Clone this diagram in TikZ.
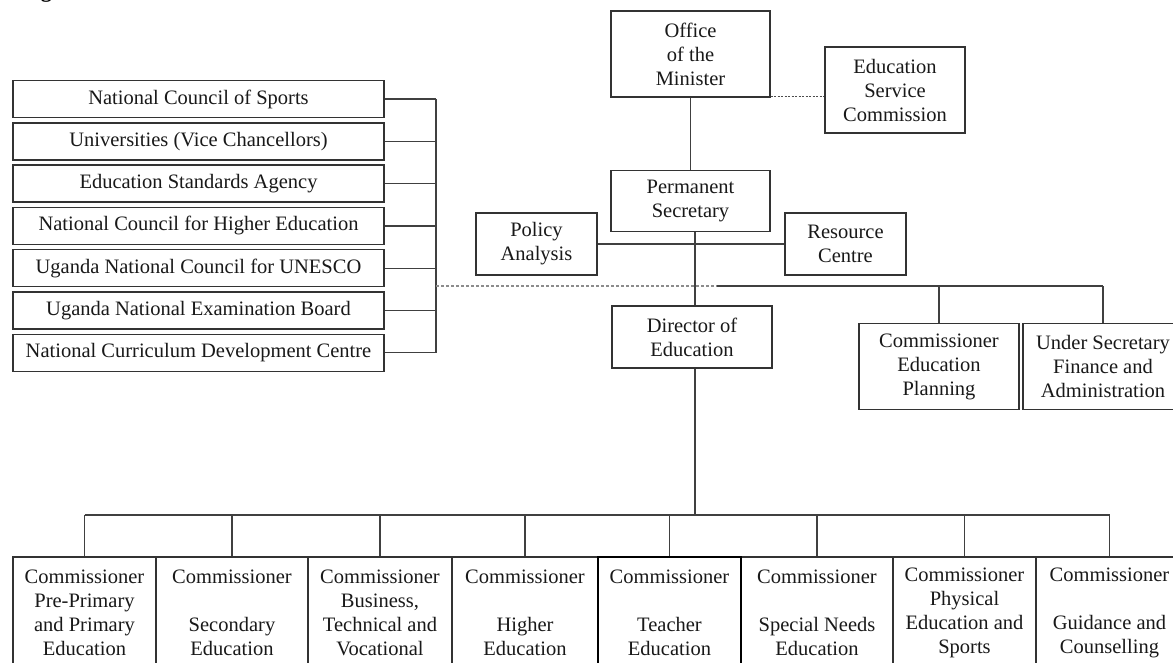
\documentclass[tikz,border=0pt]{standalone}
\usepackage{fontspec}
\setmainfont{Liberation Serif}
\begin{document}
\begin{tikzpicture}[x=1pt,y=-1pt,
  box/.style={draw=black!80, line width=1.4pt, fill=white, align=center,
    inner sep=0pt, font=\fontsize{20.5}{24}\selectfont, text=black!90},
  sidebox/.style={box, minimum width=371pt, minimum height=37pt},
  commbox/.style={box, minimum height=112pt},
  link/.style={draw=black!75, line width=1.3pt},
  dashlink/.style={draw=black!45, line width=1.2pt, dash pattern=on 3pt off 2pt},
  dotlink/.style={draw=black!70, line width=1pt, dash pattern=on 2pt off 1.5pt}]
\useasboundingbox (0,0) rectangle (1173,662);
\begin{scope}
\clip (0,0) rectangle (1173,662);

% heading, mostly above the page edge
\node[anchor=base west, inner sep=0pt, font=\fontsize{22}{26}\selectfont\bfseries] (title) at (21,-2.5) {Figure};

% top of the ministry
\node[box, minimum width=159pt, minimum height=86pt] (minister) at (690.5,54) {Office\\of the\\Minister};
\node[box, minimum width=140pt, minimum height=86pt] (esc) at (895,90) {Education\\Service\\Commission};
\node[box, minimum width=159pt, minimum height=61pt] (ps) at (690.5,201) {Permanent\\Secretary};
\node[box, minimum width=121pt, minimum height=62pt] (policy) at (536.5,244) {Policy\\Analysis};
\node[box, minimum width=121pt, minimum height=62pt] (resource) at (845.5,244) {Resource\\Centre};
\node[box, minimum width=160pt, minimum height=62pt] (director) at (692,337) {Director of\\Education};
\node[box, minimum width=160pt, minimum height=86pt] (planning) at (939,366.5) {Commissioner\\Education\\Planning};
\node[box, minimum width=160pt, minimum height=86pt] (finance) at (1103,366.5) {Under Secretary\\Finance and\\Administration};

% affiliated institutions
\node[sidebox] (ncs) at (198.5,99) {National Council of Sports};
\node[sidebox] (univ) at (198.5,141.3) {Universities (Vice Chancellors)};
\node[sidebox] (esa) at (198.5,183.6) {Education Standards Agency};
\node[sidebox] (nche) at (198.5,225.9) {National Council for Higher Education};
\node[sidebox] (unesco) at (198.5,268.2) {Uganda National Council for UNESCO};
\node[sidebox] (uneb) at (198.5,310.5) {Uganda National Examination Board};
\node[sidebox] (ncdc) at (198.5,352.8) {National Curriculum Development Centre};

% commissioners
\node[commbox, minimum width=143pt] (c1) at (84.5,613) {Commissioner\\Pre-Primary\\and Primary\\Education};
\node[commbox, minimum width=152pt] (c2) at (232,613) {Commissioner\\[24pt]Secondary\\Education};
\node[commbox, minimum width=144pt] (c3) at (380,613) {Commissioner\\Business,\\Technical and\\Vocational};
\node[commbox, minimum width=146pt] (c4) at (525,613) {Commissioner\\[24pt]Higher\\Education};
\node[commbox, minimum width=152pt] (c6) at (817,613) {Commissioner\\[24pt]Special Needs\\Education};
\node[commbox, minimum width=143pt] (c7) at (964.5,613) {Commissioner\\Physical\\Education and\\Sports};
\node[commbox, minimum width=147pt] (c8) at (1109.5,613) {Commissioner\\[24pt]Guidance and\\Counselling};
\node[commbox, minimum width=143pt, draw=black] (c5) at (669.5,613) {Commissioner\\[24pt]Teacher\\Education};

% junction points
\coordinate (spine) at (695,0);
\coordinate (bracket) at (436,0);
\coordinate (split) at (717,286);
\coordinate (side) at (436,286);
\coordinate (staff) at (1103,286);
\coordinate (hub) at (695,515);
\coordinate (busL) at (84.5,515);
\coordinate (busR) at (1109.5,515);

% minister, secretary and director
\draw[link] (minister) -- (ps);
\draw[dotlink] ([yshift=1pt]minister.south east) -- ([yshift=1pt]minister.south east -| esc.west);
\draw[link] (policy) -- (resource);
\draw[link] (ps.south -| spine) -- (director.north -| spine);

% bracket of the institutions
\foreach \n in {ncs,univ,esa,nche,unesco,uneb,ncdc}
  \draw[link] (\n.east) -- (\n.east -| bracket);
\draw[link] (ncs.east -| bracket) -- (ncdc.east -| bracket);
\draw[dashlink] (side) -- (split);

% planning and finance
\draw[link] (split) -- (staff);
\draw[link] (planning.north |- staff) -- (planning.north);
\draw[link] (staff) -- (finance.north);

% commissioners
\draw[link] (director.south -| spine) -- (hub);
\draw[link] (busL) -- (busR);
\foreach \n in {c1,c2,c3,c4,c5,c6,c7,c8}
  \draw[link] (\n.north |- hub) -- (\n.north);
\end{scope}
\end{tikzpicture}
\end{document}
